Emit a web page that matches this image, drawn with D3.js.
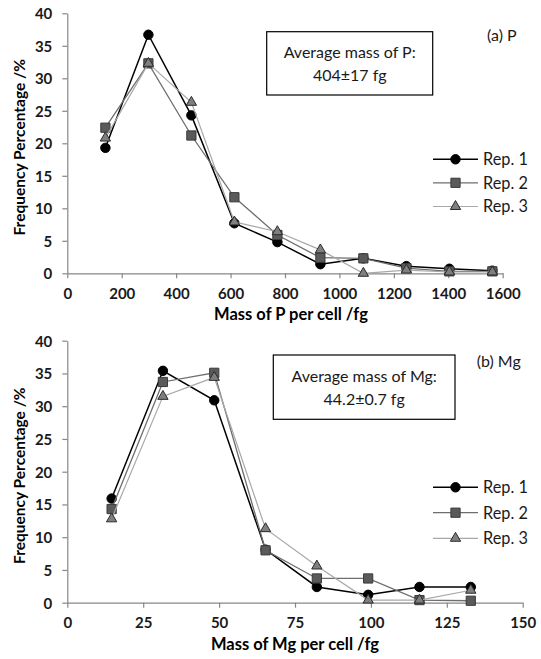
<!DOCTYPE html>
<html>
<head>
<meta charset="utf-8">
<script src="https://cdn.jsdelivr.net/npm/d3@7"></script>
<style>
  html, body { margin: 0; padding: 0; background: #fff; }
  svg { display: block; }
  text { font-family: Lato, "Open Sans", sans-serif; }
</style>
</head>
<body>
<svg id="chart" width="541" height="659"></svg>
<script>
// ---------- DATA ----------
const seriesNames = ["Rep. 1", "Rep. 2", "Rep. 3"];

// Panel (a) P
const pMass = [140, 298, 456, 614, 772, 930, 1088, 1246, 1404, 1562];
const pRep1 = [19.3, 36.7, 24.3, 7.7, 4.8, 1.4, 2.3, 1.1, 0.7, 0.4];
const pRep2 = [22.4, 32.3, 21.2, 11.7, 5.9, 2.4, 2.3, 0.8, 0.3, 0.3];
const pRep3 = [20.8, 32.3, 26.3, 7.9, 6.4, 3.6, 0.0, 0.5, 0.2, 0.2];
const pXTicks = [0, 200, 400, 600, 800, 1000, 1200, 1400, 1600];

// Panel (b) Mg
const mgMass = [14.6, 31.5, 48.4, 65.3, 82.2, 99.1, 116.0, 132.9];
const mgRep1 = [15.9, 35.4, 30.9, 8.1, 2.4, 1.2, 2.4, 2.4];
const mgRep2 = [14.3, 33.7, 35.1, 8.0, 3.7, 3.7, 0.4, 0.3];
const mgRep3 = [12.8, 31.5, 34.4, 11.3, 5.6, 0.4, 0.4, 1.9];
const mgXTicks = [0, 25, 50, 75, 100, 125, 150];

const yTicks = [0, 5, 10, 15, 20, 25, 30, 35, 40];

// ---------- DRAW ----------
const svg = d3.select("#chart");
svg.append("rect").attr("width", 541).attr("height", 659).attr("fill", "#fff");

const styles = [
  { line: "#000000", lw: 1.5, sym: d3.symbolCircle, size: 70, fill: "#000000", stroke: "#000000" },
  { line: "#6e6e6e", lw: 1.3, sym: d3.symbolSquare, size: 85, fill: "#5a5a5a", stroke: "#3a3a3a" },
  { line: "#a8a8a8", lw: 1.2, sym: d3.symbolTriangle, size: 46, fill: "#7f7f7f", stroke: "#2a2a2a" }
];

function panel(opts) {
  const g = svg.append("g");
  const x = d3.scaleLinear().domain(opts.xDomain).range(opts.xRange);
  const y = d3.scaleLinear().domain([0, 40]).range(opts.yRange);

  // axes
  const ax = g.append("g").attr("transform", `translate(0,${opts.yRange[0]})`)
    .call(d3.axisBottom(x).tickValues(opts.xTicks).tickFormat(d3.format("d"))
      .tickSize(5).tickSizeOuter(0).tickPadding(10));
  const ay = g.append("g").attr("transform", `translate(${opts.xRange[0]},0)`)
    .call(d3.axisLeft(y).tickValues(yTicks).tickFormat(d3.format("d"))
      .tickSize(5).tickSizeOuter(0).tickPadding(10));
  [ax, ay].forEach(a => {
    a.select(".domain").attr("stroke", "#878787").attr("stroke-width", 1.2);
    a.selectAll(".tick line").attr("stroke", "#878787").attr("stroke-width", 1.2);
    a.selectAll(".tick text").attr("fill", "#1a1a1a").style("font-size", "15px")
      .style("font-family", "Lato, sans-serif").style("font-weight", "bold");
  });
  ay.selectAll(".tick text").attr("dy", "0.36em");

  // axis titles
  g.append("text").attr("x", opts.xTitleX)
    .attr("y", opts.yRange[0] + 47).attr("text-anchor", "middle")
    .style("font-size", "16.5px").style("font-weight", "bold").attr("fill", "#000")
    .text(opts.xTitle);
  g.append("text").attr("transform", `translate(25,${(opts.yRange[0] + opts.yRange[1]) / 2 + 4}) rotate(-90)`)
    .attr("text-anchor", "middle").style("font-size", "15.5px").style("font-weight", "bold")
    .attr("fill", "#000").text("Frequency Percentage /%");

  // series
  const data = opts.series;
  data.forEach((vals, i) => {
    const st = styles[i];
    const pts = opts.xs.map((xv, k) => [xv, vals[k]]);
    g.append("path").datum(pts)
      .attr("fill", "none").attr("stroke", st.line).attr("stroke-width", st.lw)
      .attr("d", d3.line().x(d => x(d[0])).y(d => y(d[1])));
    g.selectAll(null).data(pts).enter().append("path")
      .attr("transform", d => `translate(${x(d[0])},${y(d[1])})`)
      .attr("d", d3.symbol().type(st.sym).size(st.size))
      .attr("fill", st.fill).attr("stroke", st.stroke).attr("stroke-width", 1);
  });

  // legend
  seriesNames.forEach((name, i) => {
    const st = styles[i];
    const ly = opts.legendY[i];
    g.append("line").attr("x1", 433).attr("x2", 478).attr("y1", ly).attr("y2", ly)
      .attr("stroke", st.line).attr("stroke-width", st.lw);
    g.append("path").attr("transform", `translate(455.5,${ly})`)
      .attr("d", d3.symbol().type(st.sym).size(st.size))
      .attr("fill", st.fill).attr("stroke", st.stroke).attr("stroke-width", 1);
    g.append("text").attr("x", 483).attr("y", ly).attr("dy", "0.36em")
      .style("font-size", "16.3px").attr("fill", "#1a1a1a").text(name);
  });

  // info box
  const b = opts.box;
  g.append("rect").attr("x", b.x).attr("y", b.y).attr("width", b.w).attr("height", b.h)
    .attr("fill", "#fff").attr("stroke", "#000").attr("stroke-width", 1.2);
  b.lines.forEach((t, k) => {
    g.append("text").attr("x", b.x + b.w / 2).attr("y", b.ly[k]).attr("dy", "0.36em")
      .attr("text-anchor", "middle").style("font-size", "16px").attr("fill", "#1a1a1a").text(t);
  });
  g.append("text").attr("x", opts.label.x).attr("y", opts.label.y).attr("dy", "0.36em")
    .style("font-size", "16px").attr("fill", "#1a1a1a").text(opts.label.text);
}

panel({
  xDomain: [0, 1600], xRange: [67.3, 502.7], yRange: [273.3, 13.3],
  xTicks: pXTicks, xs: pMass, series: [pRep1, pRep2, pRep3],
  xTitle: "Mass of P per cell /fg", xTitleX: 291,
  legendY: [159.3, 182.8, 206.5],
  box: { x: 266.7, y: 31.7, w: 166, h: 63.3, lines: ["Average mass of P:", "404\u00b117 fg"], ly: [52.5, 75] },
  label: { x: 487, y: 35, text: "(a) P" }
});

panel({
  xDomain: [0, 150], xRange: [67.3, 522.7], yRange: [602.7, 340.7],
  xTicks: mgXTicks, xs: mgMass, series: [mgRep1, mgRep2, mgRep3],
  xTitle: "Mass of Mg per cell /fg", xTitleX: 295,
  legendY: [487.3, 512.7, 538.3],
  box: { x: 273.3, y: 355, w: 181.7, h: 64.3, lines: ["Average mass of Mg:", "44.2\u00b10.7 fg"], ly: [376.7, 399.3] },
  label: { x: 476.7, y: 361.7, text: "(b) Mg" }
});
</script>
</body>
</html>
